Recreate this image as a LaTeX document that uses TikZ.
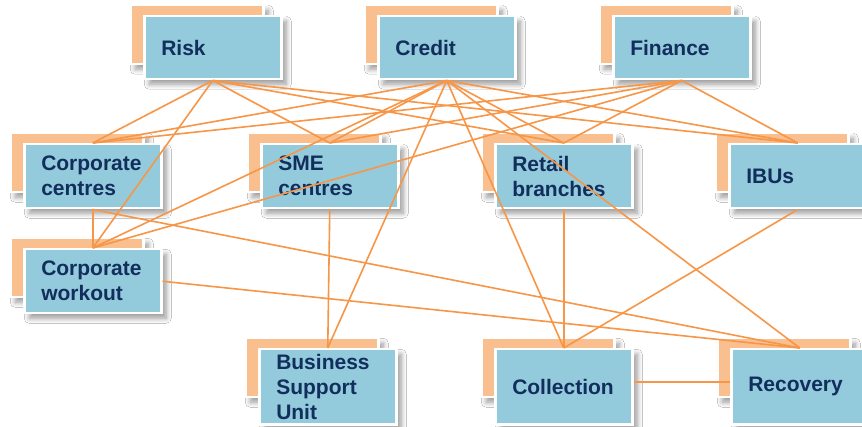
\documentclass[tikz,border=0pt]{standalone}
\usepackage{fontspec}
\setmainfont{Liberation Sans}
\usetikzlibrary{shadows.blur}
\definecolor{blueC}{HTML}{93CBDC}
\definecolor{peachC}{HTML}{F9BF8F}
\definecolor{lineC}{HTML}{F79646}
\definecolor{navyC}{HTML}{122E5C}
\tikzset{
  shadowed/.style={blur shadow={shadow xshift=5pt,shadow yshift=-5pt,shadow blur radius=5pt,shadow blur steps=8,shadow opacity=40}},
  backbox/.style={rectangle, fill=peachC, draw=white, line width=2.5pt, minimum width=133pt, minimum height=59pt, inner sep=0pt, shadowed},
  frontbox/.style={rectangle, fill=blueC, draw=white, line width=2.5pt, minimum width=137pt, text width=103pt, inner xsep=17pt, inner ysep=0pt, align=left, font=\fontsize{21}{25}\selectfont\bfseries, text=navyC, shadowed},
  link/.style={draw=lineC, line width=1.6pt}
}
\newcommand\mkunit[5]{%
  \node[backbox, anchor=north west] (#1b) at (#2-14,#3-11) {};
  \node[frontbox, anchor=north west, minimum height=#4pt] (#1) at (#2,#3) {#5};
}
\begin{document}
\begin{tikzpicture}[x=1pt,y=-1pt]
\useasboundingbox (0,0) rectangle (862,427);
\clip (0,0) rectangle (862,427);
\fill[white] (0,0) rectangle (862,427);
\mkunit{risk}{143}{15}{63}{Risk}
\mkunit{credit}{377}{15}{63}{Credit}
\mkunit{fin}{612}{15}{63}{Finance}
\mkunit{cc}{23}{143}{64}{Corporate\\centres}
\mkunit{sme}{260}{143}{64}{SME\\centres}
\mkunit{ret}{494}{143}{64}{Retail\\branches}
\mkunit{ibu}{728}{143}{64}{IBUs}
\mkunit{cw}{23}{248}{64}{Corporate\\workout}
\mkunit{bsu}{258}{348}{75}{Business\\Support\\Unit}
\mkunit{coll}{494}{348}{75}{Collection}
\mkunit{rec}{730}{348}{75}{Recovery}
% connectors
\foreach \t in {cc,cw,sme,ret,ibu}{
  \draw[link] (risk.south) -- (\t.north);
  \draw[link] (fin.south) -- (\t.north);
}
\foreach \t in {cc,cw,sme,ret,ibu,bsu,coll,rec}{
  \draw[link] (credit.south) -- (\t.north);
}
\draw[link] (cc.south) -- (cw.north);
\draw[link] (cc.south) -- (rec.north);
\draw[link] (cw.east) -- (rec.north);
\draw[link] (sme.south) -- (bsu.north);
\draw[link] (ret.south) -- (coll.north);
\draw[link] (ibu.south) -- (coll.north);
\draw[link] ([yshift=5pt]coll.east) -- ([yshift=5pt]rec.west);
\end{tikzpicture}
\end{document}
